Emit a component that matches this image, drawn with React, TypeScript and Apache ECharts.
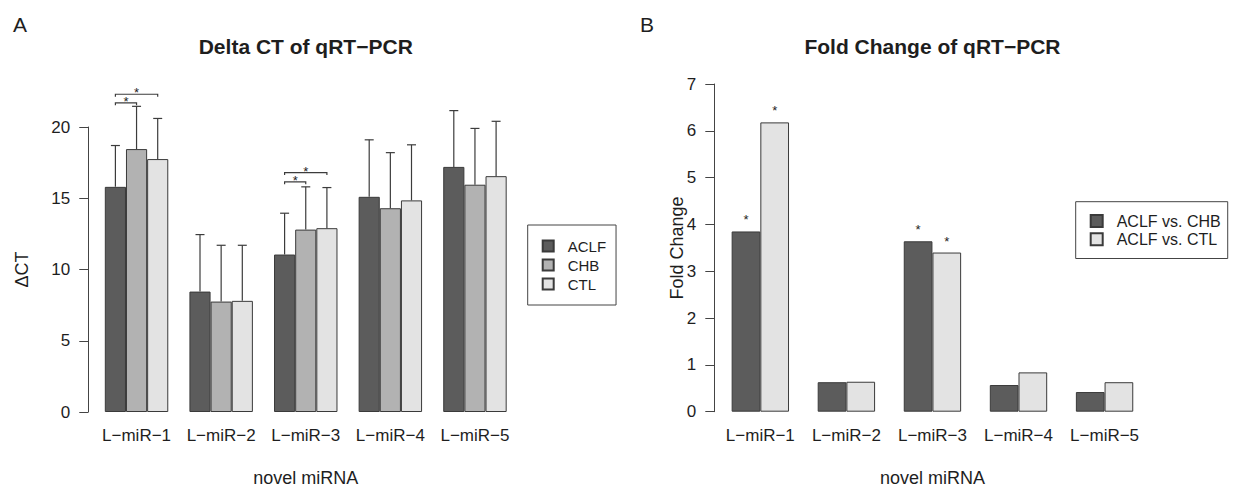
import React, { useEffect, useRef } from "react";
import * as echarts from "echarts";

const categories = ["L\u2212miR\u22121", "L\u2212miR\u22122", "L\u2212miR\u22123", "L\u2212miR\u22124", "L\u2212miR\u22125"];
const groupNames = ["ACLF", "CHB", "CTL"];
const aclfMean = [15.8, 8.45, 11.05, 15.1, 17.2];
const aclfSd = [2.9, 4.0, 2.9, 4.0, 3.95];
const chbMean = [18.45, 7.75, 12.8, 14.3, 15.95];
const chbSd = [3.0, 3.95, 3.0, 3.9, 3.95];
const ctlMean = [17.75, 7.8, 12.9, 14.85, 16.55];
const ctlSd = [2.85, 3.9, 2.85, 3.9, 3.85];
const bracketCat = [0, 0, 2, 2];
const bracketTo = [1, 2, 1, 2];
const bracketY = [21.7, 22.3, 16.15, 16.8];
const deltaTicks = { min: 0, max: 20, interval: 5 };

const fcNames = ["ACLF vs. CHB", "ACLF vs. CTL"];
const fcVsCHB = [3.85, 0.63, 3.64, 0.57, 0.42];
const fcVsCTL = [6.18, 0.64, 3.4, 0.84, 0.63];
const sigVsCHB = [1, 0, 1, 0, 0];
const sigVsCTL = [1, 0, 1, 0, 0];
const fcTicks = { min: 0, max: 7, interval: 1 };

const FONT = "'Liberation Sans', Arial, Helvetica, sans-serif";
const TEXT = "#1e1e1e";
const AXIS = "#444";
const BORDER = "#3a3a3a";
const C_DARK = "#5c5c5c";
const C_MID = "#b2b2b2";
const C_LIGHT = "#e3e3e3";

export default function App() {
  const ref = useRef<HTMLDivElement>(null);
  useEffect(() => {
    if (!ref.current) return;
    const chart = echarts.init(ref.current, null, { renderer: "svg" });
    const means = [aclfMean, chbMean, ctlMean];
    const sds = [aclfSd, chbSd, ctlSd];
    const leftColors = [C_DARK, C_MID, C_LIGHT];
    const errData: number[][] = [];
    means.forEach((m, s) => m.forEach((v, i) => errData.push([i, s, v, v + sds[s][i]])));
    const brData = bracketCat.map((c, k) => [c, 0, bracketTo[k], bracketY[k]]);

    const yAxisCommon = {
      type: "value",
      splitLine: { show: false },
      axisLine: { show: true, lineStyle: { color: AXIS, width: 1 } },
      axisTick: { show: true, length: 9, lineStyle: { color: AXIS } },
      axisLabel: { color: TEXT, fontSize: 17, fontFamily: FONT, margin: 18 },
    };
    const xAxisCommon = {
      type: "category",
      data: categories,
      axisLine: { show: false },
      axisTick: { show: false },
      axisLabel: { color: TEXT, fontSize: 17, fontFamily: FONT, margin: 15, interval: 0 },
    };

    const option: any = {
      animation: false,
      backgroundColor: "#fff",
      textStyle: { fontFamily: FONT },
      grid: [
        { left: 94.25, top: 127, width: 423, height: 285 },
        { left: 717.3, top: 84, width: 430.3, height: 327.7 },
      ],
      xAxis: [
        { ...xAxisCommon, gridIndex: 0 },
        { ...xAxisCommon, gridIndex: 1 },
      ],
      yAxis: [
        { ...yAxisCommon, gridIndex: 0, offset: 6, ...deltaTicks },
        { ...yAxisCommon, gridIndex: 1, offset: 3, ...fcTicks },
      ],
      legend: [
        {
          data: groupNames,
          orient: "vertical",
          left: 527.7,
          top: 225,
          padding: [13.5, 10, 13.5, 14],
          itemWidth: 11,
          itemHeight: 11,
          itemGap: 4,
          icon: "rect",
          borderColor: AXIS,
          borderWidth: 1,
          textStyle: { color: TEXT, fontSize: 15, fontFamily: FONT, lineHeight: 11, padding: [0, 0, 0, 9] },
        },
        {
          data: fcNames,
          orient: "vertical",
          left: 1075.7,
          top: 201.7,
          padding: [11.3, 7, 11.3, 14],
          itemWidth: 12,
          itemHeight: 12,
          itemGap: 2.2,
          icon: "rect",
          borderColor: AXIS,
          borderWidth: 1,
          textStyle: { color: TEXT, fontSize: 16, fontFamily: FONT, lineHeight: 12, padding: [0, 0, 0, 9] },
        },
      ],
      series: [
        ...groupNames.map((n, s) => ({
          name: n,
          type: "bar",
          xAxisIndex: 0,
          yAxisIndex: 0,
          data: means[s],
          barGap: "0%",
          barCategoryGap: "25%",
          itemStyle: { color: leftColors[s], borderColor: BORDER, borderWidth: 1 },
        })),
        {
          type: "custom",
          xAxisIndex: 0,
          yAxisIndex: 0,
          clip: false,
          z: 5,
          data: errData,
          encode: { x: 0, y: 2 },
          renderItem: (params: any, api: any) => {
            const cat = api.value(0);
            const s = api.value(1);
            const band = api.size([1, 0])[0];
            const bw = band * 0.25;
            const p0 = api.coord([cat, api.value(2)]);
            const p1 = api.coord([cat, api.value(3)]);
            const x = p0[0] + (s - 1) * bw;
            const st = { stroke: "#3c3c3c", lineWidth: 1.2 };
            return {
              type: "group",
              children: [
                { type: "line", shape: { x1: x, y1: p0[1], x2: x, y2: p1[1] }, style: st },
                { type: "line", shape: { x1: x - 4.5, y1: p1[1], x2: x + 4.5, y2: p1[1] }, style: st },
              ],
            };
          },
        },
        {
          type: "custom",
          xAxisIndex: 0,
          yAxisIndex: 0,
          clip: false,
          z: 5,
          data: brData,
          encode: { x: 0, y: 3 },
          renderItem: (params: any, api: any) => {
            const cat = api.value(0);
            const s1 = api.value(1);
            const s2 = api.value(2);
            const band = api.size([1, 0])[0];
            const bw = band * 0.25;
            const p = api.coord([cat, api.value(3)]);
            const x1 = p[0] + (s1 - 1) * bw;
            const x2 = p[0] + (s2 - 1) * bw;
            const y = p[1];
            return {
              type: "group",
              children: [
                {
                  type: "polyline",
                  shape: { points: [[x1, y + 2.5], [x1, y], [x2, y], [x2, y + 2.5]] },
                  style: { stroke: "#3c3c3c", lineWidth: 1.2, fill: null },
                },
                {
                  type: "text",
                  x: (x1 + x2) / 2,
                  y: y - 1.5,
                  style: { text: "*", fontSize: 13, fontFamily: FONT, fill: TEXT, align: "center", verticalAlign: "middle" },
                },
              ],
            };
          },
        },
        ...fcNames.map((n, s) => {
          const sig = s === 0 ? sigVsCHB : sigVsCTL;
          return {
            name: n,
            type: "bar",
            xAxisIndex: 1,
            yAxisIndex: 1,
            data: s === 0 ? fcVsCHB : fcVsCTL,
            barGap: "0%",
            barCategoryGap: "33.33%",
            itemStyle: { color: s === 0 ? C_DARK : C_LIGHT, borderColor: BORDER, borderWidth: 1 },
            label: {
              show: true,
              position: "top",
              distance: 5,
              fontSize: 13,
              fontFamily: FONT,
              color: TEXT,
              formatter: (p: any) => (sig[p.dataIndex] ? "*" : ""),
            },
          };
        }),
      ],
      graphic: [
        { type: "text", left: 13, top: 14, style: { text: "A", fontSize: 21, fontFamily: FONT, fill: TEXT } },
        { type: "text", left: 640, top: 14, style: { text: "B", fontSize: 21, fontFamily: FONT, fill: TEXT } },
        {
          type: "text", x: 305.75, y: 46.5,
          style: { text: "Delta CT of qRT\u2212PCR", fontSize: 21, fontWeight: "bold", fontFamily: FONT, fill: TEXT, align: "center", verticalAlign: "middle" },
        },
        {
          type: "text", x: 932.5, y: 46,
          style: { text: "Fold Change of qRT\u2212PCR", fontSize: 21, fontWeight: "bold", fontFamily: FONT, fill: TEXT, align: "center", verticalAlign: "middle" },
        },
        {
          type: "text", x: 21.5, y: 269.5, rotation: Math.PI / 2,
          style: { text: "\u0394CT", fontSize: 18, fontFamily: FONT, fill: TEXT, align: "center", verticalAlign: "middle" },
        },
        {
          type: "text", x: 677, y: 248, rotation: Math.PI / 2,
          style: { text: "Fold Change", fontSize: 18, fontFamily: FONT, fill: TEXT, align: "center", verticalAlign: "middle" },
        },
        {
          type: "text", x: 305.75, y: 478,
          style: { text: "novel miRNA", fontSize: 18, fontFamily: FONT, fill: TEXT, align: "center", verticalAlign: "middle" },
        },
        {
          type: "text", x: 932.5, y: 478,
          style: { text: "novel miRNA", fontSize: 18, fontFamily: FONT, fill: TEXT, align: "center", verticalAlign: "middle" },
        },
      ],
    };
    chart.setOption(option);
    return () => chart.dispose();
  }, []);
  return <div ref={ref} style={{ position: "fixed", left: 0, top: 0, width: 1235, height: 489 }} />;
}
